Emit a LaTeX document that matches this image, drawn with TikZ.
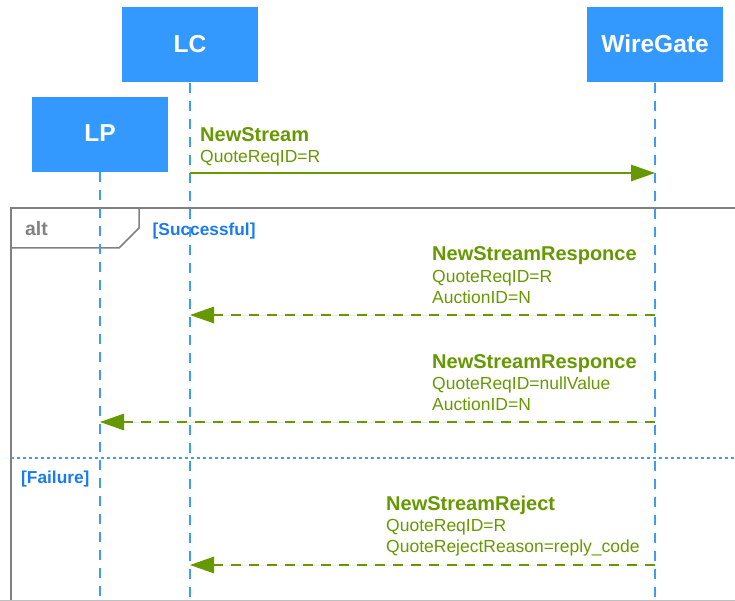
\documentclass[tikz,border=0pt]{standalone}
\usepackage{fontspec}
\setmainfont{Liberation Sans}
\usetikzlibrary{arrows.meta}
\definecolor{boxblue}{HTML}{3399FF}
\definecolor{lifeblue}{HTML}{3D9DF5}
\definecolor{msggreen}{HTML}{669900}
\definecolor{framegray}{HTML}{808080}
\definecolor{guardblue}{HTML}{1A7AF0}
\tikzset{
  actor/.style={fill=boxblue, draw=none, minimum width=136pt, minimum height=75pt, inner sep=0pt},
  actorname/.style={text=white, font=\bfseries\fontsize{24.5}{28}\selectfont, inner sep=0pt, anchor=base},
  lifeline/.style={draw=lifeblue, line width=1.3pt, dash pattern=on 10pt off 8pt},
  msg/.style={draw=msggreen, line width=1.3pt, -{Triangle[length=24pt,width=16.5pt]}, fill=msggreen},
  reply/.style={msg, dash pattern=on 10pt off 8pt},
  msgtitle/.style={text=msggreen, anchor=base west, inner sep=0pt,
    font=\bfseries\fontsize{20}{24}\selectfont},
  msgline/.style={text=msggreen, anchor=base west, inner sep=0pt,
    font=\fontsize{17.5}{21}\selectfont},
  frameline/.style={draw=framegray, line width=1.5pt},
  guard/.style={text=guardblue, font=\bfseries\fontsize{17.3}{20}\selectfont, inner sep=0pt, anchor=base west}
}
\begin{document}
\begin{tikzpicture}[x=1pt,y=-1pt]
\useasboundingbox (0,0) rectangle (735,601);
% combined fragment frame
\draw[frameline] (11,601) -- (11,208) -- (735,208);
\draw[draw=framegray!50, line width=1pt] (0,600.5) -- (735,600.5);
\draw[frameline] (139,208) -- (139,228) -- (119,248) -- (11,248);
\node[text=framegray, font=\bfseries\fontsize{19.4}{22}\selectfont, anchor=base west, inner sep=0pt] (alt) at (25,236) {alt};
\node[guard] (succ) at (152.5,236) {[Successful]};
\draw[draw=lifeblue, line width=1.2pt, dash pattern=on 3pt off 3pt] (11,458) -- (735,458);
\node[guard] (fail) at (21,483) {[Failure]};
% participants
\node[actor] (lc) at (190,45) {};
\node[actor] (wg) at (655,45) {};
\node[actor] (lp) at (100,134.5) {};
\node[actorname] (lcname) at (190,52.5) {LC};
\node[actorname] (wgname) at (655,52.5) {WireGate};
\node[actorname] (lpname) at (100,142) {LP};
\coordinate (lcend) at (190,601);
\coordinate (wgend) at (655,601);
\coordinate (lpend) at (100,601);
\draw[lifeline] (lc.south) -- (lcend);
\draw[lifeline] (wg.south) -- (wgend);
\draw[lifeline] (lp.south) -- (lpend);
% message anchors on lifelines
\coordinate (lc1) at (190,173);
\coordinate (wg1) at (655,173);
\coordinate (wg2) at (655,315);
\coordinate (lc2) at (190,315);
\coordinate (wg3) at (655,422);
\coordinate (lp3) at (100,422);
\coordinate (wg4) at (655,565);
\coordinate (lc4) at (190,565);
% messages
\draw[msg] (lc1) -- (wg1);
\node[msgtitle] (m1t) at (200,141.7) {NewStream};
\node[msgline] (m1a) at (200,162.7) {QuoteReqID=R};
\draw[reply] (wg2) -- (lc2);
\node[msgtitle] (m2t) at (432,261) {NewStreamResponce};
\node[msgline] (m2a) at (432,282) {QuoteReqID=R};
\node[msgline] (m2b) at (432,303) {AuctionID=N};
\draw[reply] (wg3) -- (lp3);
\node[msgtitle] (m3t) at (432,368) {NewStreamResponce};
\node[msgline] (m3a) at (432,389) {QuoteReqID=nullValue};
\node[msgline] (m3b) at (432,410) {AuctionID=N};
\draw[reply] (wg4) -- (lc4);
\node[msgtitle] (m4t) at (386,510) {NewStreamReject};
\node[msgline] (m4a) at (386,531.5) {QuoteReqID=R};
\node[msgline] (m4b) at (386,552) {QuoteRejectReason=reply\_code};
\end{tikzpicture}
\end{document}
